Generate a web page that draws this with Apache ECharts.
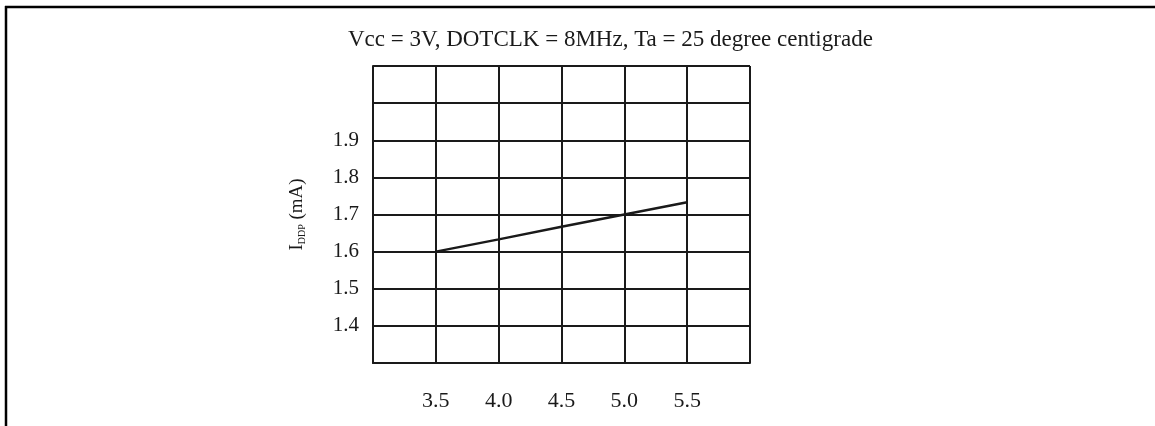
<!DOCTYPE html>
<html>
<head>
<meta charset="utf-8">
<script src="https://cdn.jsdelivr.net/npm/echarts@6/dist/echarts.min.js"></script>
<style>
html,body{margin:0;padding:0;background:#fff;}
#chart{width:1155px;height:426px;}
</style>
</head>
<body>
<div id="chart"></div>
<script>
// Data
var titleText = 'Vcc = 3V, DOTCLK = 8MHz, Ta = 25 degree centigrade';
var xValues = [3.5, 4.0, 4.5, 5.0, 5.5];
var iddpValues = [1.600, 1.633, 1.667, 1.700, 1.733];
var xTickLabels = ['3.5', '4.0', '4.5', '5.0', '5.5'];
var yTickLabels = ['1.4', '1.5', '1.6', '1.7', '1.8', '1.9'];

var serif = '"Liberation Serif", "DejaVu Serif", serif';
var ink = '#1a1a1a';

var chart = echarts.init(document.getElementById('chart'));
chart.setOption({
  animation: false,
  backgroundColor: '#fff',
  title: {
    text: titleText,
    left: 348,
    top: 28,
    padding: 0,
    textStyle: { fontFamily: serif, fontSize: 23, fontWeight: 'normal', color: ink }
  },
  grid: { left: 373, right: 405, top: 66, bottom: 63, containLabel: false },
  xAxis: {
    type: 'value',
    min: 3.0, max: 6.0, interval: 0.5,
    axisLine: { show: true, lineStyle: { color: ink, width: 2 } },
    axisTick: { show: false },
    splitLine: { show: true, lineStyle: { color: ink, width: 2 } },
    axisLabel: {
      margin: 27,
      fontFamily: serif, fontSize: 22, color: ink,
      formatter: function (v) {
        var s = v.toFixed(1);
        return xTickLabels.indexOf(s) >= 0 ? s : '';
      }
    }
  },
  yAxis: {
    type: 'value',
    min: 1.3, max: 2.1, interval: 0.1,
    name: '{a|I}{b|DDP}{a| (mA)}',
    nameLocation: 'middle',
    nameRotate: 90,
    nameGap: 66,
    nameTextStyle: {
      rich: {
        a: { fontFamily: serif, fontSize: 19, color: ink },
        b: { fontFamily: serif, fontSize: 10, color: ink, verticalAlign: 'bottom' }
      }
    },
    axisLine: { show: true, lineStyle: { color: ink, width: 2 } },
    axisTick: { show: false },
    splitLine: { show: true, lineStyle: { color: ink, width: 2 } },
    axisLabel: {
      margin: 14,
      fontFamily: serif, fontSize: 21, color: ink,
      formatter: function (v) {
        var s = v.toFixed(1);
        return yTickLabels.indexOf(s) >= 0 ? s : '';
      }
    }
  },
  graphic: [
    { type: 'line', silent: true, shape: { x1: 5, y1: 7, x2: 1155, y2: 7 }, style: { stroke: '#000', lineWidth: 2.5 } },
    { type: 'line', silent: true, shape: { x1: 6, y1: 6, x2: 6, y2: 426 }, style: { stroke: '#000', lineWidth: 2.5 } }
  ],
  series: [{
    type: 'line',
    data: xValues.map(function (x, i) { return [x, iddpValues[i]]; }),
    showSymbol: false,
    symbol: 'none',
    lineStyle: { color: ink, width: 2.5 }
  }]
});
</script>
</body>
</html>
